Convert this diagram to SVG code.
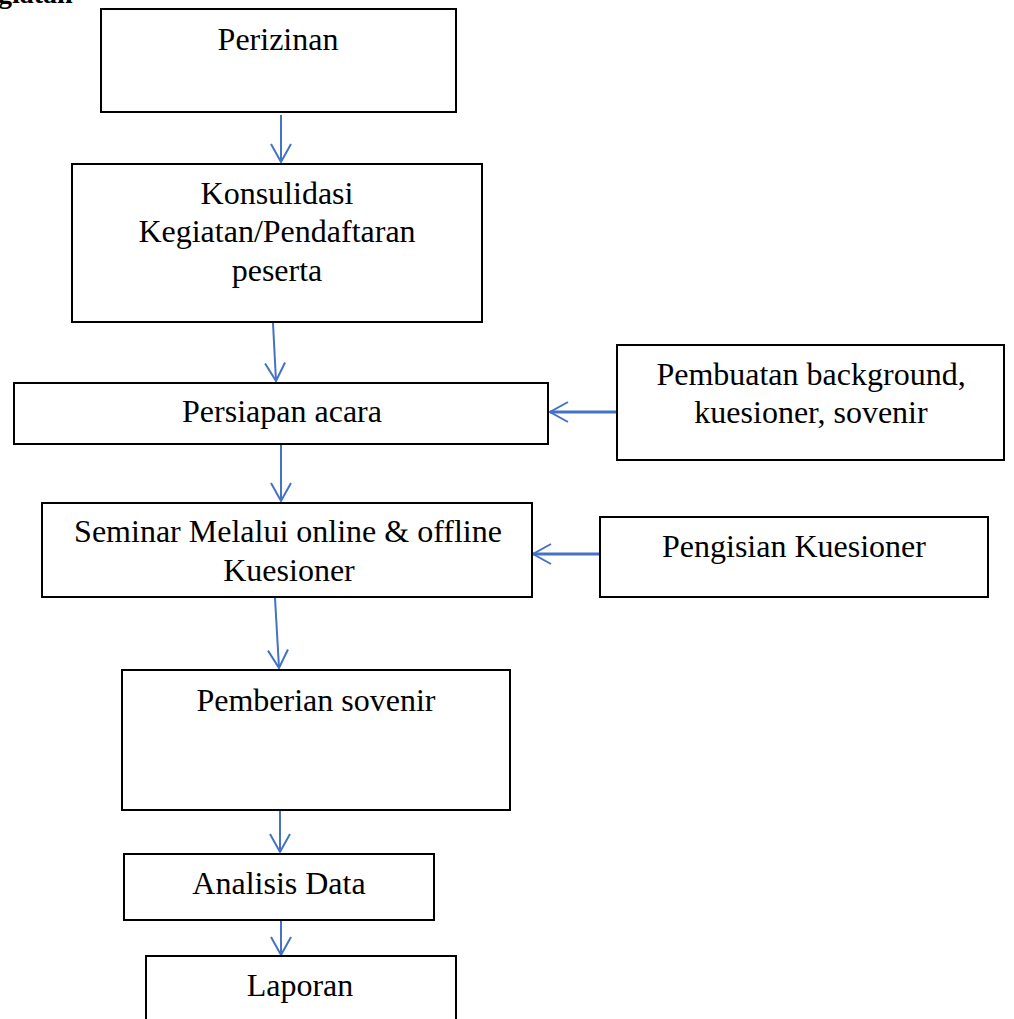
<svg xmlns="http://www.w3.org/2000/svg" width="1014" height="1019" viewBox="0 0 1014 1019">
<style>
.box{fill:#fff;stroke:#000;stroke-width:2}
.t{font-family:"Liberation Serif","Times New Roman",serif;font-size:32px;fill:#000;text-anchor:middle}
.h{font-family:"Liberation Serif","Times New Roman",serif;font-size:28px;font-weight:bold;fill:#000}
.c{stroke:#4472C4;stroke-width:2;fill:none;marker-end:url(#ah)}
.cw{stroke-width:3}
</style>
<defs>
<marker id="ah" markerUnits="userSpaceOnUse" markerWidth="24" markerHeight="24" refX="19" refY="11" orient="auto">
<path d="M1,1 L19,11 L1,21" fill="none" stroke="#4472C4" stroke-width="2"/>
</marker>
</defs>
<rect width="1014" height="1019" fill="#fff"/>
<text class="h" x="-2" y="3">giatan</text>
<g id="connectors">
<line class="c" x1="281" y1="115" x2="281" y2="162"/>
<line class="c" x1="273" y1="323" x2="276" y2="381"/>
<line class="c" x1="281" y1="445" x2="281" y2="501"/>
<line class="c" x1="275" y1="598" x2="279" y2="668"/>
<line class="c" x1="280" y1="811" x2="280" y2="852"/>
<line class="c" x1="281" y1="915" x2="281" y2="955"/>
<line class="c cw" x1="617" y1="412" x2="550" y2="412"/>
<line class="c cw" x1="600" y1="554" x2="533" y2="554"/>
</g>
<g id="perizinan">
<rect class="box" x="101" y="9" width="355" height="103"/>
<text class="t" x="278" y="50">Perizinan</text>
</g>
<g id="konsulidasi">
<rect class="box" x="72" y="164" width="410" height="158"/>
<text class="t" x="277" y="204">Konsulidasi</text>
<text class="t" x="277" y="242">Kegiatan/Pendaftaran</text>
<text class="t" x="277" y="281">peserta</text>
</g>
<g id="persiapan">
<rect class="box" x="14" y="383" width="534" height="61"/>
<text class="t" x="282" y="422">Persiapan acara</text>
</g>
<g id="pembuatan">
<rect class="box" x="617" y="345" width="387" height="115"/>
<text class="t" x="811" y="385">Pembuatan background,</text>
<text class="t" x="811" y="423">kuesioner, sovenir</text>
</g>
<g id="seminar">
<rect class="box" x="42" y="503" width="490" height="94"/>
<text class="t" x="288" y="542">Seminar Melalui online &amp; offline</text>
<text class="t" x="289" y="581">Kuesioner</text>
</g>
<g id="pengisian">
<rect class="box" x="600" y="517" width="388" height="80"/>
<text class="t" x="794" y="557">Pengisian Kuesioner</text>
</g>
<g id="pemberian">
<rect class="box" x="122" y="670" width="388" height="140"/>
<text class="t" x="316" y="711">Pemberian sovenir</text>
</g>
<g id="analisis">
<rect class="box" x="124" y="854" width="310" height="66"/>
<text class="t" x="279" y="894">Analisis Data</text>
</g>
<g id="laporan">
<rect class="box" x="146" y="956" width="310" height="70"/>
<text class="t" x="300" y="996">Laporan</text>
</g>
</svg>
